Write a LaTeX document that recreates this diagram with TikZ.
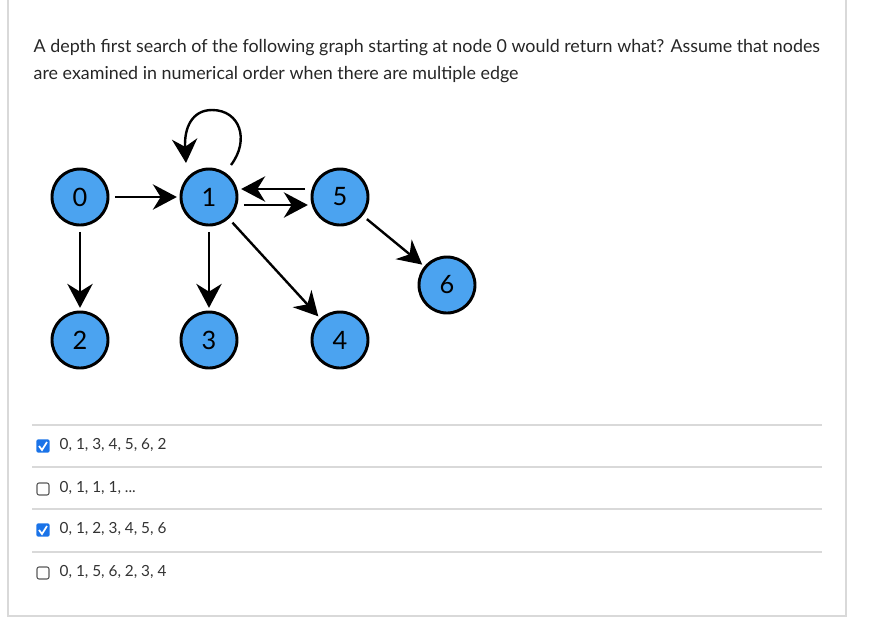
\documentclass[tikz,border=0pt]{standalone}
\usepackage{fontspec}
\setmainfont{Lato}
\usetikzlibrary{arrows.meta}
\definecolor{vblue}{HTML}{4BA3F0}
\definecolor{cbblue}{HTML}{1A73E8}
\definecolor{rulegrey}{HTML}{D9D9D9}
\tikzset{
  vertex/.style={circle,draw=black,line width=2.2pt,fill=vblue,minimum size=42pt,inner sep=0pt,font=\fontsize{19}{19}\selectfont},
  edge/.style={line width=1.8pt,-{Stealth[length=18pt,width=19pt]},shorten <=4pt,shorten >=2pt},
  answer/.style={anchor=west,font=\fontsize{11.5}{14}\selectfont,text=black!80},
  box/.style={draw=black!65,rounded corners=1.5pt,minimum size=9pt,inner sep=0pt,line width=0.8pt},
  tickbox/.style={fill=cbblue,rounded corners=1.5pt,minimum size=10pt,inner sep=0pt}
}
\begin{document}
\begin{tikzpicture}[x=0.75pt,y=-0.75pt]
\useasboundingbox (0,0) rectangle (892,626);
\draw[rulegrey,line width=0.8pt] (8,-5) rectangle (846,616);

\node[anchor=west,font=\fontsize{13.4}{16}\selectfont,text=black!85] (q1) at (29,48)
  {A depth first search of the following graph starting at node 0 would return what? Assume that nodes};
\node[anchor=west,font=\fontsize{13.4}{16}\selectfont,text=black!85] (q2) at (29,75)
  {are examined in numerical order when there are multiple edge};

% graph
\node[vertex] (n0) at (80,197) {0};
\node[vertex] (n1) at (209,197) {1};
\node[vertex] (n5) at (340,197) {5};
\node[vertex] (n2) at (80,340) {2};
\node[vertex] (n3) at (209,340) {3};
\node[vertex] (n4) at (340,340) {4};
\node[vertex] (n6) at (447,285) {6};

\draw[edge] (n0) -- (n1);
\draw[edge] (n0) -- (n2);
\draw[edge] (n1) -- (n3);
\draw[edge] (n1) -- (n4);
\draw[edge] (n5) -- (n6);
\draw[edge] ([yshift=-6pt]n1.east) -- ([yshift=-6pt]n5.west);
\draw[edge] ([yshift=6pt]n5.west) -- ([yshift=6pt]n1.east);
\draw[line width=1.8pt,-{Stealth[length=18pt,width=19pt]}]
  (231,165) .. controls (250,140) and (240,110) .. (212,110) .. controls (192,110) and (184,128) .. (186,163);

% answers
\foreach \yy in {425,467,509,552}
  \draw[rulegrey,line width=0.8pt] (32,\yy) -- (822,\yy);

\node[tickbox] (c1) at (43,446) {};
\draw[white,line width=1.3pt] (39,446) -- (42,450) -- (47,442);
\node[answer] (a1) at (55,445) {0, 1, 3, 4, 5, 6, 2};

\node[box] (c2) at (43,489) {};
\node[answer] (a2) at (55,488) {0, 1, 1, 1, ...};

\node[tickbox] (c3) at (43,530) {};
\draw[white,line width=1.3pt] (39,530) -- (42,534) -- (47,526);
\node[answer] (a3) at (55,529) {0, 1, 2, 3, 4, 5, 6};

\node[box] (c4) at (43,573) {};
\node[answer] (a4) at (55,572) {0, 1, 5, 6, 2, 3, 4};
\end{tikzpicture}
\end{document}
